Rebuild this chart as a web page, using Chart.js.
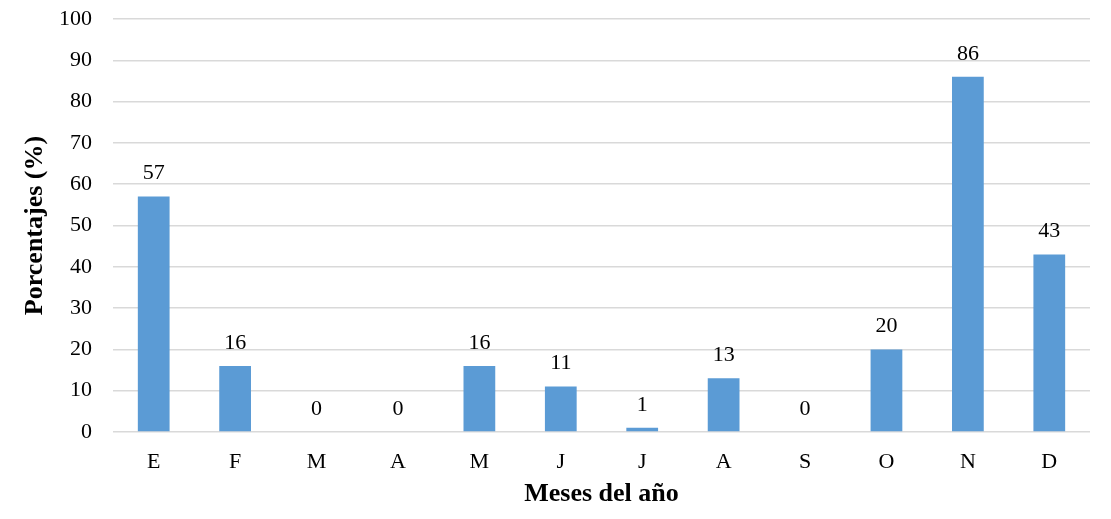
<!DOCTYPE html>
<html><head><meta charset="utf-8">
<script src="https://cdn.jsdelivr.net/npm/chart.js@4/dist/chart.umd.min.js"></script>
<style>html,body{margin:0;padding:0;background:#fff}#wrap{width:1111px;height:519px}</style>
</head><body><div id="wrap"><canvas id="c" width="1111" height="519"></canvas></div>
<script>
const categories = ["E","F","M","A","M","J","J","A","S","O","N","D"];
const values = [57,16,0,0,16,11,1,13,0,20,86,43];
const yTicks = [0,10,20,30,40,50,60,70,80,90,100];
const yTitle = "Porcentajes (%)";
const xTitle = "Meses del año";

const SERIF = "'Liberation Serif','Times New Roman',serif";

const labelPlugin = {
  id: 'valueLabels',
  afterDatasetsDraw(chart) {
    const ctx = chart.ctx;
    const meta = chart.getDatasetMeta(0);
    ctx.save();
    ctx.font = "22px " + SERIF;
    ctx.fillStyle = "#000";
    ctx.textAlign = "center";
    ctx.textBaseline = "middle";
    meta.data.forEach((bar, i) => {
      ctx.fillText(String(values[i]), bar.x, bar.y - 23);
    });
    ctx.restore();
  }
};

new Chart(document.getElementById('c'), {
  type: 'bar',
  data: {
    labels: categories,
    datasets: [{
      data: values,
      backgroundColor: '#5B9BD5',
      borderWidth: 0,
      categoryPercentage: 1,
      barPercentage: 0.39
    }]
  },
  plugins: [labelPlugin],
  options: {
    responsive: false,
    animation: false,
    layout: { padding: { top: 0, right: 21, left: 0, bottom: 0 } },
    plugins: { legend: { display: false }, tooltip: { enabled: false } },
    scales: {
      x: {
        grid: { display: false, drawTicks: false },
        border: { display: false },
        ticks: { color: '#000', font: { family: SERIF, size: 22 }, padding: 17 },
        title: { display: true, text: xTitle, color: '#000', font: { family: SERIF, size: 26, weight: 'bold' }, padding: { top: 0, bottom: 9 } },
        afterFit(s) { s.height = 87; s.paddingLeft = 0; s.paddingRight = 0; }
      },
      y: {
        min: 0, max: 100,
        afterBuildTicks(s) { s.ticks = yTicks.map(v => ({ value: v })); },
        grid: { color: '#d9d9d9', lineWidth: 1.5, drawTicks: false },
        border: { display: false },
        ticks: { color: '#000', font: { family: SERIF, size: 22 }, padding: 21 },
        title: { display: true, text: yTitle, color: '#000', font: { family: SERIF, size: 26, weight: 'bold' }, padding: { top: 20, bottom: 0 } },
        afterFit(s) { s.width = 113; s.paddingTop = 19; s.paddingBottom = 0; }
      }
    }
  }
});
</script></body></html>
